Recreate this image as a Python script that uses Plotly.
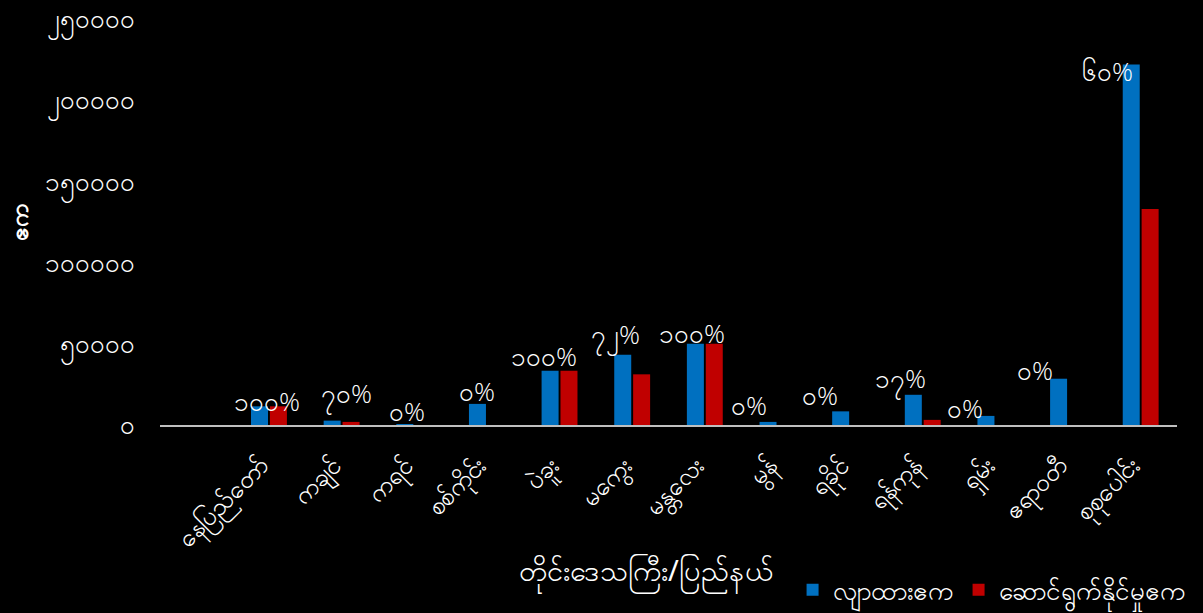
import plotly.graph_objects as go

categories = [" ", "နေပြည်တော်", "ကချင်", "ကရင်", "စစ်ကိုင်း", "ပဲခူး", "မကွေး", "မန္တလေး",
              "မွန်", "ရခိုင်", "ရန်ကုန်", "ရှမ်း", "ဧရာဝတီ", "စုစုပေါင်း"]
planned = [None, 11500, 2700, 500, 13000, 33400, 43300, 50000, 1900, 8400, 18600, 5600, 28500, 222000]
achieved = [None, 11500, 1900, 0, 0, 33400, 31200, 50000, 0, 0, 3150, 0, 0, 133000]
pct_labels = ["", "၁၀၀%", "၇၀%", "၀%", "၀%", "၁၀၀%", "၇၂%", "၁၀၀%", "၀%", "၀%", "၁၇%", "၀%", "၀%", "၆၀%"]
tick_vals = [0, 50000, 100000, 150000, 200000, 250000]
tick_text = ["၀", "၅၀၀၀၀", "၁၀၀၀၀၀", "၁၅၀၀၀၀", "၂၀၀၀၀၀", "၂၅၀၀၀၀"]
series_names = ["လျာထားဧက", "ဆောင်ရွက်နိုင်မှုဧက"]
x_title = "တိုင်းဒေသကြီး/ပြည်နယ်"
y_title = "ဧက"
slide_number = "15"

# manual data-label nudges (pixels), as placed in the original slide
label_dx = [0, -2, 5, -7, -10, -16, -17, -13, -28, -30, -22, -30, -33, -33]
label_dy = [0, 5, 26, 13, 13, 15, 19, 11, 17, 16, 15, 8, 9, -7]

FONT = "Noto Sans, DejaVu Sans, sans-serif"
LABEL_FONT = "Open Sans, Noto Sans, sans-serif"

fig = go.Figure()
fig.add_trace(go.Bar(x=categories, y=planned, name=series_names[0],
                     marker=dict(color="#0070C0", line=dict(width=0))))
fig.add_trace(go.Bar(x=categories, y=achieved, name=series_names[1],
                     marker=dict(color="#C00000", line=dict(width=0))))

for c, p, lab, dx, dy in zip(categories, planned, pct_labels, label_dx, label_dy):
    if not lab:
        continue
    fig.add_annotation(x=c, y=p, text=lab, showarrow=False, yanchor="middle",
                       xshift=dx, yshift=dy,
                       font=dict(size=26, color="white", family=LABEL_FONT, weight=300))

fig.add_annotation(xref="paper", yref="paper", x=0.478, y=-0.362, yanchor="middle",
                   text=x_title, showarrow=False, font=dict(size=29, color="white"))
fig.add_annotation(xref="paper", yref="paper", x=-0.14, y=0.5, xanchor="center", yanchor="middle",
                   text="<b>" + y_title + "</b>", textangle=-90, showarrow=False,
                   font=dict(size=24, color="white"))
fig.add_annotation(xref="paper", yref="paper", x=0.862, y=-0.445, yanchor="top",
                   text=slide_number, showarrow=False, font=dict(size=22, color="#7F7F7F"))

fig.update_layout(
    width=1203, height=613,
    paper_bgcolor="black", plot_bgcolor="black",
    margin=dict(l=160, r=26, t=19, b=188, autoexpand=False),
    barmode="group", bargap=0.48, bargroupgap=0.1,
    font=dict(family=FONT, color="white", size=20),
    showlegend=True,
    legend=dict(orientation="h", x=0.622, xanchor="left", y=-0.406, yanchor="middle",
                font=dict(size=26, color="white"), bgcolor="rgba(0,0,0,0)"),
    xaxis=dict(tickangle=-45, showgrid=False, showline=True, linecolor="#BFBFBF", linewidth=2,
               tickfont=dict(size=25, color="white"), ticks="", automargin=False,
               ticklabelstandoff=14, ticklabelshift=-8),
    yaxis=dict(range=[0, 250000], tickvals=tick_vals, ticktext=tick_text, showgrid=False,
               zeroline=False, tickfont=dict(size=26, color="white"), ticks="",
               ticklabelstandoff=24, automargin=False),
)

fig.write_html("out.html", config={"displayModeBar": False},
               post_script="document.body.style.margin='0';document.body.style.overflow='hidden';"
                           "document.body.style.background='black';")
